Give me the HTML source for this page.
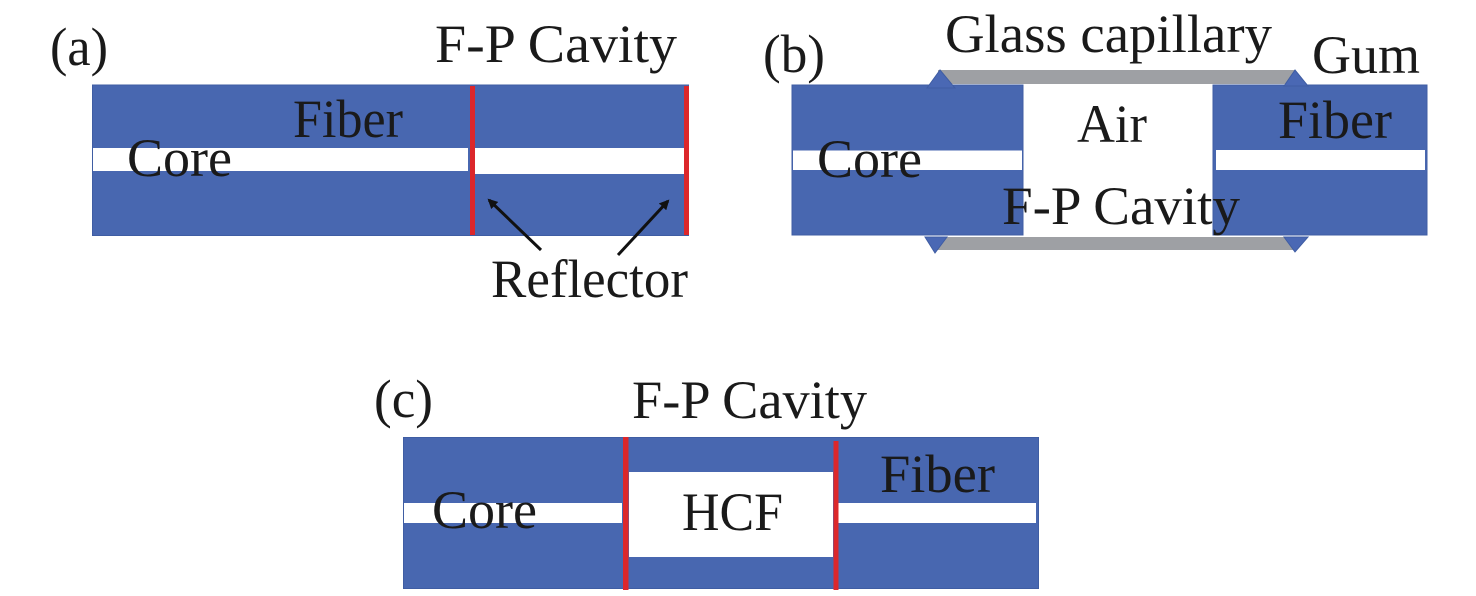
<!DOCTYPE html>
<html>
<head>
<meta charset="utf-8">
<style>
  html, body { margin: 0; padding: 0; background: #ffffff; }
  body { width: 1476px; height: 596px; overflow: hidden; }
  svg { display: block; }
  text { font-family: "Liberation Serif", "Times New Roman", serif; font-size: 54px; fill: #1a1a1a; }
</style>
</head>
<body>
<svg width="1476" height="596" viewBox="0 0 1476 596" xmlns="http://www.w3.org/2000/svg">
  <defs>
    <marker id="ah" markerWidth="10" markerHeight="10" refX="8" refY="5" orient="auto" markerUnits="userSpaceOnUse">
      <path d="M0,0 L10,5 L0,10 z" fill="#111"/>
    </marker>
  </defs>

  <!-- ===== Panel (a) ===== -->
  <rect x="92.5" y="85" width="596" height="150.5" fill="#4867b0" stroke="#3f5da3" stroke-width="1"/>
  <rect x="93" y="148" width="375" height="23" fill="#ffffff"/>
  <rect x="475" y="148" width="209" height="26" fill="#ffffff"/>
  <rect x="470" y="86" width="5" height="149" fill="#dc272b"/>
  <rect x="684" y="86" width="5" height="149" fill="#dc272b"/>

  <line x1="541" y1="250" x2="489" y2="200" stroke="#111" stroke-width="3" marker-end="url(#ah)"/>
  <line x1="618" y1="255" x2="668" y2="201" stroke="#111" stroke-width="3" marker-end="url(#ah)"/>

  <text x="50" y="65" textLength="58" lengthAdjust="spacingAndGlyphs">(a)</text>
  <text x="435" y="62" textLength="242" lengthAdjust="spacingAndGlyphs">F-P Cavity</text>
  <text x="293" y="137" textLength="110" lengthAdjust="spacingAndGlyphs">Fiber</text>
  <text x="127" y="176" textLength="105" lengthAdjust="spacingAndGlyphs">Core</text>
  <text x="491" y="297" textLength="197" lengthAdjust="spacingAndGlyphs">Reflector</text>

  <!-- ===== Panel (b) ===== -->
  <!-- glass capillary -->
  <rect x="938" y="70" width="357" height="14" fill="#9ea0a4"/>
  <rect x="934" y="237" width="361" height="13" fill="#9ea0a4"/>
  <!-- fibers -->
  <rect x="792" y="85" width="231" height="150" fill="#4867b0" stroke="#3f5da3" stroke-width="1"/>
  <rect x="793" y="150.5" width="229" height="19.5" fill="#ffffff"/>
  <rect x="1213" y="85" width="214" height="150" fill="#4867b0" stroke="#3f5da3" stroke-width="1"/>
  <rect x="1216" y="150" width="209" height="20" fill="#ffffff"/>
  <!-- gum -->
  <polygon points="940,70 927,88 955,88" fill="#4a68b4" stroke="#3f5da3" stroke-width="1"/>
  <polygon points="1295,70 1284,86 1308,86" fill="#4a68b4" stroke="#3f5da3" stroke-width="1"/>
  <polygon points="935,253 925,237 947,237" fill="#4a68b4" stroke="#3f5da3" stroke-width="1"/>
  <polygon points="1295,252 1284,237 1308,237" fill="#4a68b4" stroke="#3f5da3" stroke-width="1"/>

  <text x="763" y="72" textLength="62" lengthAdjust="spacingAndGlyphs">(b)</text>
  <text x="945" y="52" textLength="327" lengthAdjust="spacingAndGlyphs">Glass capillary</text>
  <text x="1312" y="73" textLength="108" lengthAdjust="spacingAndGlyphs">Gum</text>
  <text x="1077" y="142" textLength="70" lengthAdjust="spacingAndGlyphs">Air</text>
  <text x="1278" y="138" textLength="114" lengthAdjust="spacingAndGlyphs">Fiber</text>
  <text x="817" y="177" textLength="105" lengthAdjust="spacingAndGlyphs">Core</text>
  <text x="1002" y="224" textLength="238" lengthAdjust="spacingAndGlyphs">F-P Cavity</text>

  <!-- ===== Panel (c) ===== -->
  <rect x="403.5" y="437.5" width="635" height="151" fill="#4867b0" stroke="#3f5da3" stroke-width="1"/>
  <rect x="404" y="503" width="218" height="20" fill="#ffffff"/>
  <rect x="629" y="472" width="204" height="85" fill="#ffffff"/>
  <rect x="838" y="503" width="198" height="20" fill="#ffffff"/>
  <rect x="623" y="437" width="5.5" height="153" fill="#dc272b"/>
  <rect x="833.5" y="441" width="5" height="149" fill="#dc272b"/>

  <text x="374" y="417" textLength="59" lengthAdjust="spacingAndGlyphs">(c)</text>
  <text x="632" y="418" textLength="235" lengthAdjust="spacingAndGlyphs">F-P Cavity</text>
  <text x="432" y="528" textLength="105" lengthAdjust="spacingAndGlyphs">Core</text>
  <text x="682" y="530" textLength="101" lengthAdjust="spacingAndGlyphs">HCF</text>
  <text x="880" y="492" textLength="115" lengthAdjust="spacingAndGlyphs">Fiber</text>
</svg>
</body>
</html>
